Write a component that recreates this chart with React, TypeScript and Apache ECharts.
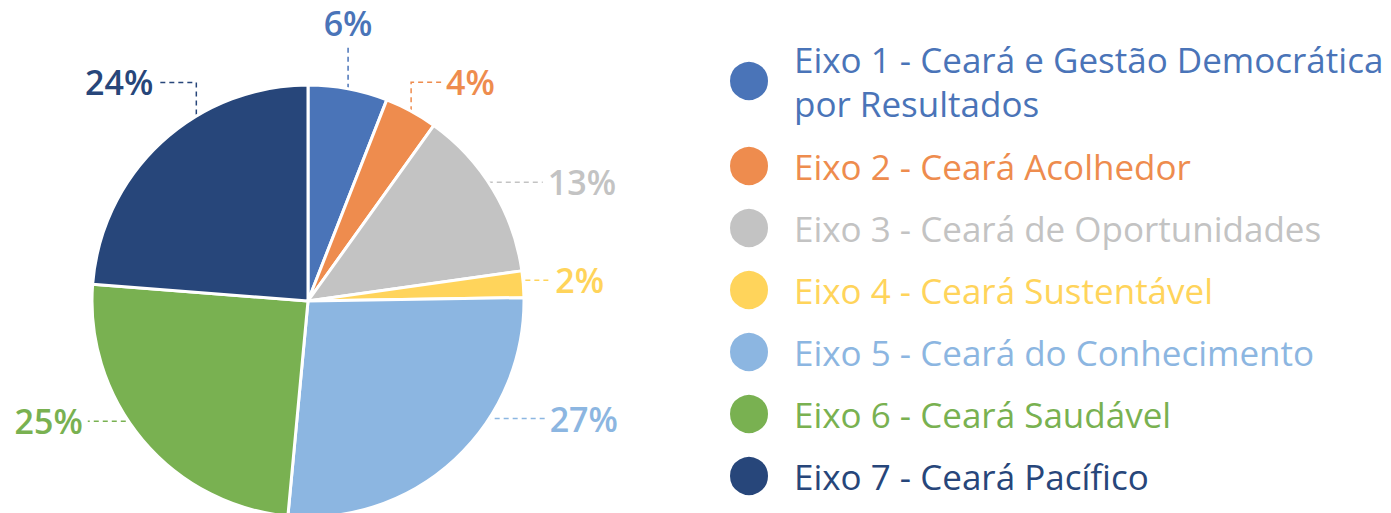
import React, { useEffect, useRef } from "react";
import * as echarts from "echarts";

const categories = [
  "Eixo 1 - Ceará e Gestão Democrática\npor Resultados",
  "Eixo 2 - Ceará Acolhedor",
  "Eixo 3 - Ceará de Oportunidades",
  "Eixo 4 - Ceará Sustentável",
  "Eixo 5 - Ceará do Conhecimento",
  "Eixo 6 - Ceará Saudável",
  "Eixo 7 - Ceará Pacífico",
];
const values = [6, 4, 13, 2, 27, 25, 24];
const colors = ["#4A74B8", "#EE8C4E", "#C3C3C3", "#FFD45B", "#8CB6E1", "#79B151", "#27467A"];
// leader line style per slice: relative moves from the slice anchor
const leaderMoves: number[][][] = [
  [[0, -44]],
  [[0, -29], [30, 0]],
  [[-8, 0], [0, -7], [58, 0]],
  [[-6, 0], [0, -4], [33, 0]],
  [[0, -41], [90, 0]],
  [[0, -19], [-55, 0]],
  [[35, 0], [0, -60], [-38, 0]],
];

export default function App() {
  const ref = useRef<HTMLDivElement>(null);
  useEffect(() => {
    if (!ref.current) return;
    const chart = echarts.init(ref.current, undefined, { renderer: "svg" });
    const font = "'Open Sans', 'Noto Sans', sans-serif";
    chart.setOption({
      animation: false,
      backgroundColor: "#ffffff",
      legend: {
        orient: "vertical",
        left: 723,
        top: 32,
        icon: "circle",
        itemWidth: 40,
        itemHeight: 40,
        itemGap: 20,
        selectedMode: false,
        textStyle: { fontFamily: font, fontSize: 35, lineHeight: 42, padding: [0, 0, 0, 20] },
        data: categories.map((c, i) => ({
          name: c,
          textStyle: { color: colors[i], lineHeight: i === 0 ? 44 : 42 },
        })),
      },
      series: [
        {
          type: "pie",
          center: [308, 301],
          radius: 216,
          startAngle: 90,
          clockwise: true,
          itemStyle: { borderColor: "#ffffff", borderWidth: 3 },
          label: {
            show: true,
            position: "outside",
            fontFamily: font,
            fontSize: 34,
            fontWeight: 600,
            formatter: (p: any) => `${p.value}%`,
          },
          labelLine: {
            show: true,
            length: 10,
            length2: 10,
            lineStyle: { type: [5, 4], width: 1.5 },
          },
          labelLayout: (params: any) => {
            const i = params.dataIndex;
            const pts = params.labelLinePoints;
            if (!pts || !pts.length) return {};
            const path: number[][] = [[pts[0][0], pts[0][1]]];
            for (const m of leaderMoves[i]) {
              const last = path[path.length - 1];
              path.push([last[0] + m[0], last[1] + m[1]]);
            }
            const end = path[path.length - 1];
            const lastMove = leaderMoves[i][leaderMoves[i].length - 1];
            const gap = 5;
            if (lastMove[0] === 0) {
              return {
                x: end[0],
                y: end[1] - gap,
                align: "center",
                verticalAlign: "bottom",
                labelLinePoints: path,
              };
            }
            const dir = lastMove[0] > 0 ? 1 : -1;
            return {
              x: end[0] + dir * gap,
              y: end[1],
              align: dir > 0 ? "left" : "right",
              verticalAlign: "middle",
              labelLinePoints: path,
            };
          },
          data: categories.map((c, i) => ({
            name: c,
            value: values[i],
            itemStyle: { color: colors[i] },
            label: { color: colors[i] },
            labelLine: { lineStyle: { color: colors[i] } },
          })),
        },
      ],
    });
    return () => chart.dispose();
  }, []);
  return (
    <div
      ref={ref}
      style={{ position: "fixed", left: 0, top: 0, width: 1391, height: 513 }}
    />
  );
}
